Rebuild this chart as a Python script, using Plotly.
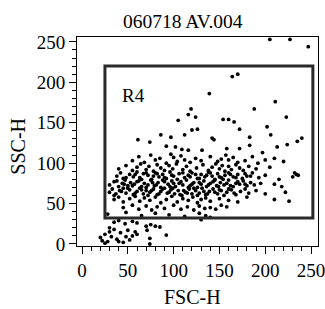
import plotly.graph_objects as go

title_text = "060718 AV.004"
x_label = "FSC-H"
y_label = "SSC-H"
gate_name = "R4"
gate_fsc = [25, 252]
gate_ssc = [32, 220]
tick_vals = [0, 50, 100, 150, 200, 250]

# events (FSC-H, SSC-H), grouped by SSC band
fsc = [
    # sparse upper events
    205, 227, 247, 164, 170, 139, 211, 188, 119, 105, 116, 124, 154, 160, 166, 223,
    202, 172, 126, 120, 112, 86, 97, 61, 74, 142, 144, 183, 206, 240, 235, 224, 213,
    197, 102, 109, 116, 92, 131, 158, 172, 183,
    # 100-112
    55, 62, 68, 75, 80, 85, 92, 97, 100, 104, 108, 112, 118, 124, 130, 140, 148, 152,
    157, 160, 165, 170, 178, 186, 192, 200, 210, 220,
    # 90-100
    40, 48, 55, 60, 64, 70, 73, 78, 82, 86, 90, 95, 99, 103, 110, 114, 118, 125, 132,
    138, 142, 146, 150, 153, 156, 160, 163, 168, 172, 176, 182, 190, 205, 232, 236,
    # 80-90
    38, 42, 45, 52, 56, 60, 63, 67, 72, 76, 80, 84, 88, 92, 96, 100, 106, 112, 116, 120,
    126, 130, 134, 138, 142, 145, 148, 152, 156, 160, 165, 170, 175, 180, 186, 193, 200,
    215, 230, 234,
    48, 58, 65, 70, 78, 82, 90, 98, 104, 110, 118, 124, 128, 136, 140, 150, 154, 162,
    168, 178, 184,
    # 70-80
    30, 35, 40, 44, 47, 50, 53, 57, 62, 65, 68, 72, 75, 79, 83, 86, 90, 94, 98, 102, 106,
    110, 114, 118, 122, 126, 130, 133, 136, 140, 143, 147, 151, 155, 160, 165, 168, 172,
    176, 180, 184, 188, 195, 210, 218,
    38, 46, 55, 60, 70, 77, 81, 88, 96, 100, 108, 116, 120, 128, 138, 145, 149, 158, 162,
    170, 178,
    # 60-70
    30, 33, 37, 41, 45, 48, 52, 56, 60, 63, 67, 70, 74, 78, 82, 86, 90, 93, 97, 101, 105,
    109, 113, 117, 120, 124, 128, 131, 135, 139, 143, 148, 152, 158, 163, 168, 173, 178,
    182, 190, 200, 222,
    35, 43, 50, 58, 65, 72, 76, 84, 88, 95, 99, 107, 111, 115, 122, 126, 133, 137, 145,
    150, 155, 160, 166,
    # 50-60
    35, 40, 45, 52, 58, 63, 68, 74, 80, 86, 92, 98, 104, 110, 116, 121, 126, 130, 135,
    140, 150, 160, 170, 180, 210, 226,
    # 40-50
    45, 55, 62, 70, 76, 82, 90, 100, 108, 115, 122, 128, 134, 140, 146, 152, 158,
    # 32-40
    28, 48, 65, 80, 95, 112, 128, 135, 140,
    # below the gate
    35, 40, 47, 55, 60, 70, 75, 80, 85, 130, 92, 20, 22, 25, 28, 30, 32, 35, 38, 42, 45,
    50, 55, 25, 30, 40, 48, 52, 58, 60, 71, 74, 74,
]
ssc = [
    253, 253, 244, 207, 210, 186, 176, 167, 167, 153, 160, 157, 154, 154, 151, 157,
    145, 142, 142, 141, 135, 135, 132, 129, 126, 131, 129, 132, 135, 131, 127, 123, 120,
    113, 120, 117, 116, 121, 116, 118, 118, 122,
    103, 108, 101, 110, 104, 106, 100, 111, 107, 102, 109, 104, 101, 106, 103, 108, 102, 105,
    110, 104, 107, 101, 103, 108, 100, 104, 106, 102,
    93, 97, 91, 95, 99, 92, 96, 90, 98, 94, 91, 97, 93, 99, 92, 96, 90, 94, 98,
    91, 95, 99, 93, 97, 90, 96, 92, 98, 94, 91, 96, 93, 95, 88, 85,
    84, 88, 81, 86, 83, 89, 82, 87, 85, 80, 88, 83, 86, 81, 89, 84, 87, 82, 85, 88,
    81, 86, 83, 89, 84, 80, 87, 82, 85, 88, 83, 86, 81, 84, 88, 82, 85,
    80, 83, 86,
    82, 86, 80, 88, 84, 87, 82, 85, 80, 88, 83, 86, 81, 85, 88, 83, 80, 86,
    82, 87, 84,
    73, 77, 71, 75, 79, 72, 76, 74, 78, 71, 75, 73, 79, 72, 76, 70, 77, 74, 78, 71, 75,
    73, 79, 72, 76, 70, 74, 78, 71, 75, 77, 72, 76, 73, 79, 71, 75, 74,
    78, 72, 76, 73, 75, 74, 71,
    78, 74, 72, 77, 70, 76, 73, 79, 71, 75, 77, 70, 74, 76, 73, 79, 71, 75, 72,
    77, 74,
    64, 68, 62, 66, 69, 63, 67, 61, 65, 69, 62, 66, 64, 68, 61, 65, 69, 63, 67, 62, 66,
    60, 64, 68, 62, 66, 63, 69, 61, 65, 68, 62, 66, 64, 67, 61, 65, 68,
    63, 66, 62, 64,
    60, 65, 69, 63, 67, 60, 66, 62, 68, 64, 69, 61, 66, 63, 69, 60, 65, 62, 64,
    67, 60, 68, 63,
    55, 58, 52, 56, 59, 53, 57, 54, 58, 51, 55, 59, 52, 56, 54, 58, 51, 55, 57,
    53, 56, 54, 52, 58, 55, 53,
    45, 48, 43, 47, 42, 46, 44, 48, 43, 46, 42, 47, 44, 45, 43, 48, 46,
    37, 39, 35, 38, 36, 34, 38, 35, 33,
    27, 29, 25, 28, 26, 22, 24, 22, 21, 30, 11, 8, 4, 12, 3, 15, 9, 18, 6, 14, 2,
    17, 10, 1, 20, 3, 9, 5, 15, 12, 17, 7, 0,
]

serif = "Liberation Serif"

fig = go.Figure()
fig.add_trace(go.Scatter(
    x=fsc, y=ssc, mode="markers",
    marker=dict(color="black", size=3.8, line=dict(width=0)),
    hoverinfo="skip", showlegend=False,
))

fig.add_shape(type="rect", xref="x", yref="y",
              x0=gate_fsc[0], x1=gate_fsc[1], y0=gate_ssc[0], y1=gate_ssc[1],
              line=dict(color="#2a2a2a", width=3))
fig.add_annotation(x=gate_fsc[0] + 16, y=gate_ssc[1] - 36, xref="x", yref="y",
                   text=gate_name, showarrow=False, xanchor="left", yanchor="middle",
                   font=dict(family=serif, size=19, color="black"))

# titles placed as paper annotations
fig.add_annotation(x=0.48, y=-0.245, xref="paper", yref="paper", text=x_label,
                   showarrow=False, xanchor="center", yanchor="middle",
                   font=dict(family=serif, size=20, color="black"))
fig.add_annotation(x=-0.245, y=0.48, xref="paper", yref="paper", text=y_label,
                   showarrow=False, xanchor="center", yanchor="middle", textangle=-90,
                   font=dict(family=serif, size=20, color="black"))
fig.add_annotation(x=0.44, y=1.075, xref="paper", yref="paper", text=title_text,
                   showarrow=False, xanchor="center", yanchor="middle",
                   font=dict(family=serif, size=19.5, color="black"))

axis_common = dict(
    showline=True, linecolor="black", linewidth=1, mirror=True,
    ticks="outside", ticklen=7, tickwidth=1, tickcolor="black",
    tickvals=tick_vals, showgrid=False, zeroline=False, automargin=False,
    ticklabeloverflow="allow",
    tickfont=dict(family=serif, size=19, color="black"),
    minor=dict(dtick=10, ticklen=4, ticks="outside", tickcolor="black", showgrid=False),
)

fig.update_layout(
    width=325, height=309,
    margin=dict(l=77, r=7, t=37, b=63),
    paper_bgcolor="white", plot_bgcolor="white",
    xaxis=dict(range=[-5.5, 257.6], **axis_common),
    yaxis=dict(range=[-2.5, 256], **axis_common),
)

fig.write_html("out.html", config={"displayModeBar": False, "staticPlot": True},
               post_script="document.body.style.margin='0';document.body.style.overflow='hidden';")
